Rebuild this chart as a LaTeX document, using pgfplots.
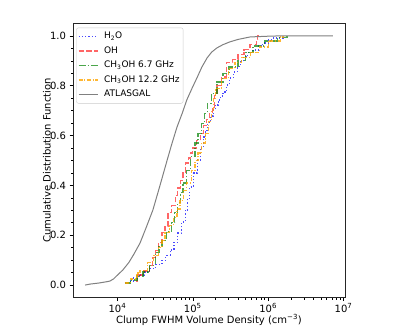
\documentclass[border=0pt]{standalone}
\usepackage{fontspec}
\setmainfont{DejaVu Sans}
\usepackage{pgfplots}
\pgfplotsset{compat=1.18}
\usepackage{pgfplotstable}
\definecolor{mplorange}{RGB}{255,165,0}
\definecolor{mplgreen}{RGB}{0,128,0}
\definecolor{mplgray}{RGB}{128,128,128}

% x values are log10 of the density
\pgfplotstableread{
lx y
4.10 0.008
4.15 0.016
4.21 0.028
4.28 0.040
4.36 0.052
4.43 0.068
4.51 0.084
4.59 0.100
4.64 0.120
4.70 0.141
4.75 0.172
4.80 0.209
4.85 0.253
4.90 0.301
4.93 0.349
4.96 0.394
5.01 0.450
5.06 0.502
5.10 0.550
5.14 0.594
5.17 0.622
5.20 0.651
5.24 0.679
5.27 0.703
5.30 0.723
5.34 0.743
5.37 0.759
5.40 0.775
5.45 0.803
5.49 0.831
5.54 0.855
5.59 0.876
5.63 0.896
5.67 0.916
5.73 0.932
5.80 0.944
5.87 0.960
5.93 0.972
6.00 0.984
6.07 0.992
6.20 1.000
}\water

\pgfplotstableread{
lx y
4.24 0.016
4.27 0.040
4.35 0.056
4.43 0.080
4.47 0.110
4.51 0.140
4.54 0.170
4.59 0.210
4.63 0.235
4.67 0.290
4.72 0.320
4.77 0.360
4.80 0.390
4.84 0.420
4.87 0.450
4.90 0.490
4.94 0.510
4.97 0.530
5.00 0.550
5.05 0.580
5.10 0.610
5.14 0.640
5.18 0.665
5.22 0.690
5.26 0.715
5.29 0.760
5.32 0.800
5.38 0.835
5.45 0.895
5.53 0.905
5.60 0.925
5.68 0.945
5.76 0.965
5.85 0.985
5.86 1.000
5.90 1.000
}\hydroxyl

\pgfplotstableread{
lx y
4.10 0.008
4.17 0.020
4.26 0.036
4.34 0.052
4.42 0.080
4.50 0.130
4.55 0.155
4.59 0.180
4.65 0.215
4.72 0.250
4.76 0.290
4.80 0.330
4.84 0.370
4.87 0.410
4.92 0.460
4.97 0.515
5.03 0.570
5.07 0.610
5.12 0.650
5.16 0.690
5.19 0.730
5.25 0.770
5.32 0.815
5.40 0.850
5.48 0.875
5.60 0.900
5.70 0.935
5.80 0.960
5.95 0.980
6.12 0.995
6.25 1.000
}\methA

\pgfplotstableread{
lx y
4.10 0.008
4.17 0.024
4.26 0.048
4.30 0.060
4.40 0.090
4.48 0.120
4.54 0.150
4.59 0.180
4.63 0.210
4.69 0.240
4.74 0.270
4.79 0.305
4.83 0.340
4.88 0.380
4.92 0.410
4.98 0.460
5.03 0.500
5.07 0.530
5.12 0.570
5.17 0.610
5.21 0.655
5.25 0.700
5.27 0.750
5.30 0.790
5.38 0.830
5.47 0.870
5.56 0.895
5.65 0.915
5.77 0.935
5.89 0.956
6.00 0.980
6.16 0.996
6.20 1.000
}\methB

\pgfplotstableread{
lx y
3.57 0.000
3.64 0.004
3.75 0.008
3.85 0.013
3.90 0.016
3.95 0.025
4.00 0.040
4.07 0.060
4.15 0.090
4.22 0.125
4.30 0.169
4.38 0.230
4.47 0.301
4.56 0.395
4.66 0.502
4.72 0.565
4.79 0.634
4.86 0.690
4.92 0.743
4.99 0.790
5.06 0.835
5.12 0.875
5.19 0.912
5.25 0.935
5.32 0.952
5.40 0.965
5.49 0.976
5.60 0.986
5.76 0.996
6.00 0.999
6.12 1.000
6.86 1.000
}\atlasgal

\tikzset{
  h2ostyle/.style={color=blue, opacity=0.7, line width=1.2pt, dash pattern=on 1.2pt off 2.1pt},
  ohstyle/.style={color=red, opacity=0.6, line width=1.2pt, dash pattern=on 5.5pt off 2.4pt},
  mastyle/.style={color=mplgreen, opacity=0.7, line width=1.2pt, dash pattern=on 7pt off 2pt on 1.2pt off 2pt},
  mbstyle/.style={color=mplorange, opacity=0.8, line width=1.2pt, dash pattern=on 4pt off 1.6pt on 1.2pt off 1.6pt},
  agstyle/.style={color=mplgray, line width=1pt},
}

\begin{document}
\begin{tikzpicture}
\useasboundingbox (-73pt,-32.5pt) rectangle (334pt,297.5pt);
\begin{axis}[
    name=ax,
    scale only axis,
    width=272pt, height=274pt,
    xmode=log,
    xmin=2570, xmax=1.047e7,
    ymin=-0.05, ymax=1.05,
    xtick={1e4,1e5,1e6,1e7},
    xticklabels={10\textsuperscript{4},10\textsuperscript{5},10\textsuperscript{6},10\textsuperscript{7}},
    ytick={0,0.2,0.4,0.6,0.8,1.0},
    minor y tick num=3,
    yticklabel style={/pgf/number format/.cd, fixed, fixed zerofill, precision=1, assume math mode=true},
    xticklabel style={yshift=1pt},
    tick label style={font=\fontsize{10}{12}\selectfont},
    tick align=outside,
    tick pos=left,
    major tick length=3.5pt,
    minor tick length=2pt,
    every tick/.style={black, line width=0.6pt},
    axis line style={black!85, line width=0.6pt},
    xlabel={Clump FWHM Volume Density (cm\textsuperscript{−3})},
    ylabel={Cumulative Distribution Function},
    label style={font=\fontsize{10}{12}\selectfont},
    xlabel style={at={(axis description cs:0.5,0)}, anchor=base, yshift=-26pt},
    ylabel style={at={(axis description cs:0,0.5)}, anchor=center, yshift=26pt},
    legend cell align=left,
    legend image code/.code={\draw[#1] (0pt,0pt) -- (19pt,0pt);},
    legend style={at={(0.012,0.985)}, anchor=north west,
        draw=black!20, rounded corners=2pt, fill=white, fill opacity=0.8, text opacity=1,
        font=\fontsize{9}{10}\selectfont, inner sep=1.5pt,
        nodes={text height=7.5pt, text depth=3pt},
        /tikz/every odd column/.append style={column sep=4pt}},
]
\addlegendimage{h2ostyle}
\addlegendentry{H\textsubscript{2}O}
\addlegendimage{ohstyle}
\addlegendentry{OH}
\addlegendimage{mastyle}
\addlegendentry{CH\textsubscript{3}OH 6.7 GHz}
\addlegendimage{mbstyle}
\addlegendentry{CH\textsubscript{3}OH 12.2 GHz}
\addlegendimage{agstyle}
\addlegendentry{ATLASGAL}

\addplot[const plot, h2ostyle, forget plot]
    table[x expr={10^(\thisrow{lx})}, y=y]{\water};
\addplot[const plot, ohstyle, forget plot]
    table[x expr={10^(\thisrow{lx})}, y=y]{\hydroxyl};
\addplot[const plot, mastyle, forget plot]
    table[x expr={10^(\thisrow{lx})}, y=y]{\methA};
\addplot[const plot, mbstyle, forget plot]
    table[x expr={10^(\thisrow{lx})}, y=y]{\methB};
\addplot[agstyle, forget plot]
    table[x expr={10^(\thisrow{lx})}, y=y]{\atlasgal};
\end{axis}
\end{tikzpicture}
\end{document}
